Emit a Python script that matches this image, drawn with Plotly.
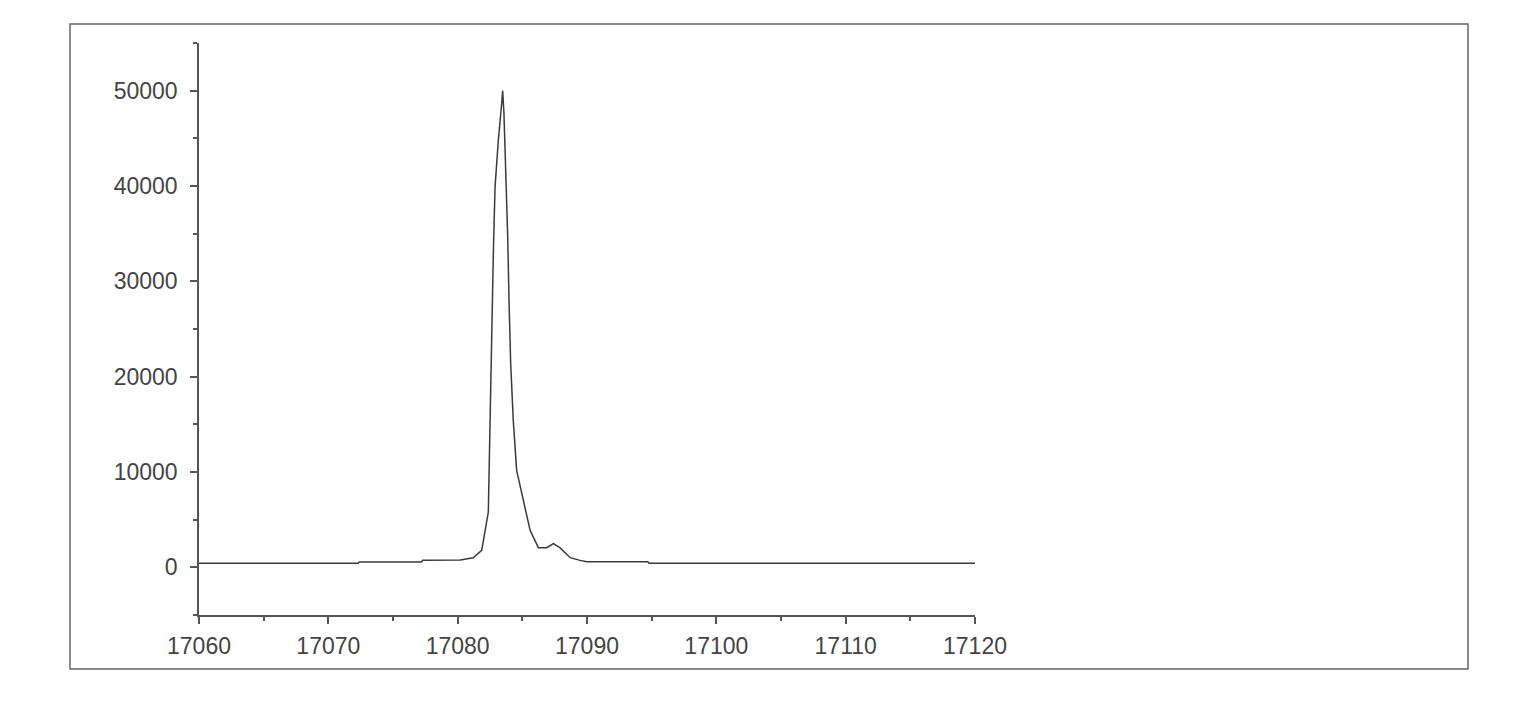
import plotly.graph_objects as go

mass = [17060, 17072.3, 17072.4, 17077.2, 17077.3, 17080.2, 17081.2, 17081.86, 17082.37, 17082.45,
        17082.55, 17082.63, 17082.76, 17082.89, 17083.14, 17083.4, 17083.48, 17083.58, 17083.74,
        17083.87, 17083.97, 17084.1, 17084.3, 17084.56, 17085.6, 17086.24, 17086.88, 17087.4,
        17087.9, 17088.7, 17089.46, 17090.0, 17094.7, 17094.8, 17120]
intensity = [420, 420, 555, 555, 740, 760, 1000, 1780, 5800, 12080,
             19280, 26240, 33050, 39860, 44750, 48600, 50000, 47550, 40900,
             34600, 27980, 21350, 15400, 10170, 3880, 2060, 2060, 2480,
             2060, 1010, 730, 590, 590, 430, 430]

x_ticks = [17060, 17070, 17080, 17090, 17100, 17110, 17120]
y_ticks = [0, 10000, 20000, 30000, 40000, 50000]

fig = go.Figure()
fig.add_trace(go.Scatter(x=mass, y=intensity, mode="lines",
                         line=dict(color="#3a3a3a", width=1.5), showlegend=False))

axis_common = dict(showline=True, linecolor="#555555", linewidth=1.5, ticks="outside",
                   tickcolor="#555555", tickwidth=1.5, ticklen=7, showgrid=False, zeroline=False,
                   tickfont=dict(family="Liberation Sans, Arial", size=23, color="#444444"))
fig.update_xaxes(range=[17060, 17120], tickvals=x_ticks, ticktext=[str(v) for v in x_ticks],
                 ticklabelstandoff=3,
                 minor=dict(dtick=5, tick0=17060, ticks="outside", ticklen=4, tickcolor="#555555", tickwidth=1.5),
                 **axis_common)
fig.update_yaxes(range=[-5000, 55000], tickvals=y_ticks, ticktext=[str(v) for v in y_ticks],
                 ticklabelstandoff=8,
                 minor=dict(dtick=5000, tick0=-5000, ticks="outside", ticklen=4, tickcolor="#555555", tickwidth=1.5),
                 **axis_common)

OFF = 8  # page body margin
W, H = 1522, 707
ml, mt = 199 - OFF, 43 - OFF
plot_right, plot_bottom = 975 - OFF, 615 - OFF
mr, mb = W - plot_right, H - plot_bottom
fig.update_layout(width=W, height=H, margin=dict(l=ml, r=mr, t=mt, b=mb),
                  paper_bgcolor="white", plot_bgcolor="white")

pw, ph = W - ml - mr, H - mt - mb
def px_to_paper_x(p):
    return (p - OFF - ml) / pw
def px_to_paper_y(p):
    return (H - mb - (p - OFF)) / ph
fig.add_shape(type="rect", xref="paper", yref="paper",
              x0=px_to_paper_x(70), x1=px_to_paper_x(1468),
              y0=px_to_paper_y(669), y1=px_to_paper_y(24),
              line=dict(color="#666666", width=1.5), layer="below")

fig.write_html("out.html")
